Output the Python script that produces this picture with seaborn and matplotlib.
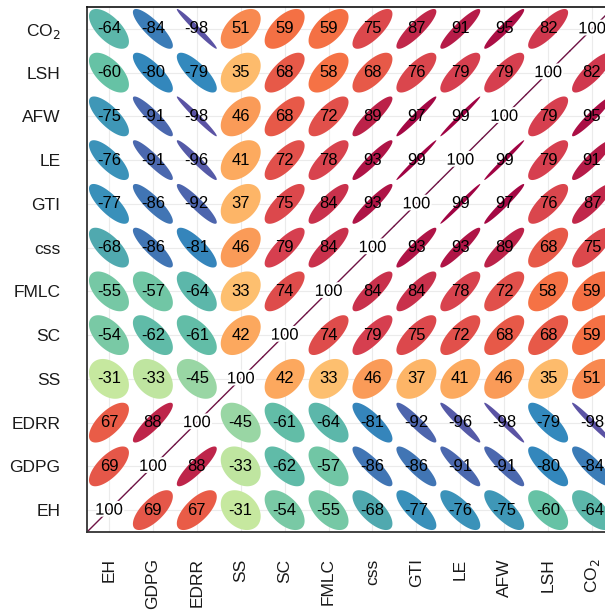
import numpy as np
import seaborn as sns
import matplotlib.pyplot as plt
import matplotlib.patheffects as pe

# variables, bottom-to-top on y, left-to-right on x
labels = ["EH", "GDPG", "EDRR", "SS", "SC", "FMLC", "css", "GTI", "LE", "AFW", "LSH", "CO$_2$"]

# correlations (x100) of each variable with the ones after it
r_EH = [69, 67, -31, -54, -55, -68, -77, -76, -75, -60, -64]
r_GDPG = [88, -33, -62, -57, -86, -86, -91, -91, -80, -84]
r_EDRR = [-45, -61, -64, -81, -92, -96, -98, -79, -98]
r_SS = [42, 33, 46, 37, 41, 46, 35, 51]
r_SC = [74, 79, 75, 72, 68, 68, 59]
r_FMLC = [84, 84, 78, 72, 58, 59]
r_css = [93, 93, 89, 68, 75]
r_GTI = [99, 97, 76, 87]
r_LE = [99, 79, 91]
r_AFW = [79, 95]
r_LSH = [82]

rows = [r_EH, r_GDPG, r_EDRR, r_SS, r_SC, r_FMLC, r_css, r_GTI, r_LE, r_AFW, r_LSH]
n = len(labels)
corr = np.eye(n) * 100
for i, row in enumerate(rows):
    for k, v in enumerate(row):
        corr[i, i + 1 + k] = v
        corr[i + 1 + k, i] = v

sns.set_style("white")
plt.rcParams["font.family"] = ["Liberation Sans", "DejaVu Sans"]

cmap = sns.color_palette("Spectral_r", as_cmap=True)

fig = plt.figure(figsize=(6.05, 6.1), dpi=100)
ax = fig.add_axes([87 / 605, 78 / 610, 527 / 605, 525 / 610])

t = np.linspace(0, 2 * np.pi, 120)
s = 0.455
for i in range(n):
    for j in range(n):
        r = corr[i, j] / 100
        if i == j:
            ax.plot([i - 0.5, i + 0.5], [j - 0.5, j + 0.5], color="#6e1244", lw=1, zorder=2)
            ax.text(i, j, "100", ha="center", va="center", fontsize=12, color="black", zorder=4,
                    path_effects=[pe.withStroke(linewidth=3, foreground="white")])
            continue
        d = np.arccos(r)
        ex = i + s * np.cos(t + d / 2)
        ey = j + s * np.cos(t - d / 2)
        ax.fill(ex, ey, color=cmap((r + 1) / 2), lw=0, zorder=2)
        ax.text(i, j, f"{int(corr[i, j])}", ha="center", va="center", fontsize=12,
                color="black", zorder=4)

ax.set_xlim(-0.5, n - 0.5)
ax.set_ylim(-0.5, n - 0.5)
ax.set_xticks(range(n))
ax.set_yticks(range(n))
ax.set_xticklabels(labels, rotation=90, fontsize=12.5, color="#1a1a1a")
ax.set_yticklabels(labels, fontsize=12.5, color="#1a1a1a")
ax.grid(True, color="#ebebeb", lw=0.8, zorder=0)
ax.set_axisbelow(True)
ax.tick_params(axis="both", length=7, width=1.3, color="#222222", pad=12, direction="out")
for side in ["left", "bottom"]:
    ax.spines[side].set_color("#333333")
    ax.spines[side].set_linewidth(1.3)
ax.spines["top"].set_color("#111111")
ax.spines["top"].set_linewidth(1.2)

fig.savefig("out.png", dpi=100)
